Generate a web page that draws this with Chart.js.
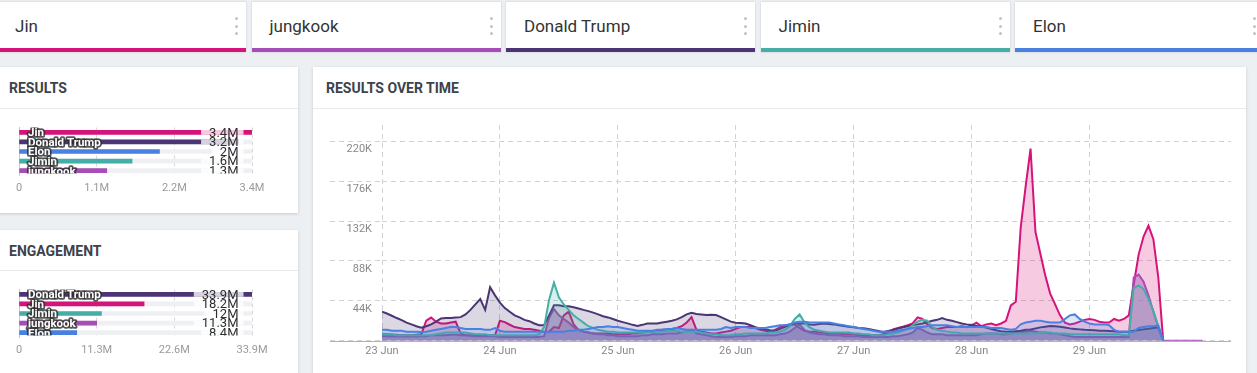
<!DOCTYPE html>
<html>
<head>
<meta charset="utf-8">
<script src="https://cdn.jsdelivr.net/npm/chart.js@4.4.0/dist/chart.umd.min.js"></script>
<style>
  body { margin: 0; width: 1257px; height: 373px; overflow: hidden; background: #edf0f3; font-family: Roboto, sans-serif; position: relative; }
  .tab { position: absolute; top: 2px; height: 46px; width: 249px; background: #fff; border-bottom: 4px solid; box-shadow: 0 0 2px rgba(0,0,0,0.18); }
  .tab span { position: absolute; left: 18px; top: 14px; font-size: 17px; line-height: 20px; color: #333; }
  .tab .dots { position: absolute; right: 8px; top: 15px; width: 3px; }
  .tab .dots i { display: block; width: 3px; height: 3px; border-radius: 50%; background: #c2c2c2; margin-bottom: 4.5px; }
  .card { position: absolute; background: #fff; box-shadow: 0 1px 3px rgba(0,0,0,0.16); }
  .card h3 { position: absolute; left: 13px; top: 13px; margin: 0; font-size: 14px; line-height: 16px; font-weight: 700; color: #3c434a; }
  .card .sep { position: absolute; left: 0; right: 0; height: 1px; background: #e8eaed; }
  canvas { position: absolute; }
</style>
</head>
<body>
<div id="tabs"></div>

<div class="card" style="left:-4px; top:67px; width:302px; height:146px;">
  <h3>RESULTS</h3><div class="sep" style="top:41px"></div>
</div>
<div class="card" style="left:-4px; top:230px; width:302px; height:160px;">
  <h3>ENGAGEMENT</h3><div class="sep" style="top:40px"></div>
</div>
<div class="card" style="left:313px; top:67px; width:933px; height:320px;">
  <h3 style="left:13px">RESULTS OVER TIME</h3><div class="sep" style="top:41px"></div>
</div>

<canvas id="results" width="298" height="93" style="left:0; top:110px;"></canvas>
<canvas id="engagement" width="298" height="93" style="left:0; top:272px;"></canvas>
<canvas id="timeline" width="932" height="263" style="left:313px; top:110px;"></canvas>

<script>
// names and colours of the tracked topics
const names = ["Jin", "jungkook", "Donald Trump", "Jimin", "Elon"];
const colors = {
    "Jin": "#d6137b",
    "jungkook": "#a64db7",
    "Donald Trump": "#4b3574",
    "Jimin": "#45aea6",
    "Elon": "#4a80e2"
};
const fillAlpha = { "Jin": 0.22, "jungkook": 0.42, "Donald Trump": 0.2, "Jimin": 0.2, "Elon": 0.2 };

// RESULTS (millions)
const resultsNames = ["Jin", "Donald Trump", "Elon", "Jimin", "jungkook"];
const resultsValues = [3.4, 3.2, 2.05, 1.65, 1.28];
const resultsValueLabels = ["3.4M", "3.2M", "2M", "1.6M", "1.3M"];
const resultsMax = 3.4;
const resultsTicks = ["0", "1.1M", "2.2M", "3.4M"];

// ENGAGEMENT (millions)
const engagementNames = ["Donald Trump", "Jin", "Jimin", "jungkook", "Elon"];
const engagementValues = [33.9, 18.2, 12.0, 11.3, 8.4];
const engagementValueLabels = ["33.9M", "18.2M", "12M", "11.3M", "8.4M"];
const engagementMax = 33.9;
const engagementTicks = ["0", "11.3M", "22.6M", "33.9M"];

// RESULTS OVER TIME, hourly from 23 Jun 00:00 (thousands)
const dayLabels = ["23 Jun", "24 Jun", "25 Jun", "26 Jun", "27 Jun", "28 Jun", "29 Jun"];
const yTickValues = [0, 44, 88, 132, 176, 220];
const yTickLabels = ["", "44K", "88K", "132K", "176K", "220K"];

const jin = [
    7, 7, 6.5, 6.5, 6, 6, 6, 6.5,
    7, 22, 25.5, 21, 19, 19, 20, 21,
    8, 6, 6, 6, 5.5, 5.5, 6, 6,
    22, 20.5, 17.6, 15, 14, 13, 12.9, 12,
    11, 10, 10, 15, 14, 28, 32, 18,
    12, 10, 9, 8, 8, 8, 8, 7,
    7, 7, 7, 8, 8, 9, 10, 10,
    11, 12, 12, 13, 14, 16, 20, 26,
    12, 10, 9, 8, 8, 9, 10, 11,
    13, 15, 15, 15, 14, 12, 11, 10,
    12, 15, 17, 18, 18, 14, 11, 10,
    10, 9, 9, 8, 8, 8, 7, 7,
    7, 6, 6, 6, 6, 6, 7, 9,
    12.5, 14, 15.4, 17, 19, 25.7, 24, 18,
    14, 13, 14, 15, 15, 15, 16, 15,
    17, 20, 16, 18, 19, 17, 19, 22,
    39, 43, 125, 170, 212, 120, 96, 72,
    52, 40, 28, 20, 18, 19, 21, 23,
    24, 23, 21, 20, 20, 24, 22, 24,
    28, 62, 95, 115, 127, 112, 70, 0
];

const jungkook = [
    5, 5, 4.5, 4.5, 4.5, 4.5, 4.5, 4.5,
    5, 5, 6, 6, 6, 6, 6.5, 6.5,
    6, 6, 5.5, 5, 5, 5, 5, 5,
    4, 4, 4, 4, 4, 4, 4, 4,
    4, 5, 25, 35, 28, 24, 20, 15,
    12, 10, 9, 8, 7, 7, 6, 6,
    5, 5, 5, 5, 5, 6, 6, 7,
    7, 7, 8, 8, 8, 9, 11, 12,
    8, 7, 6, 5, 4, 4, 4, 4,
    5, 5, 5, 6, 6, 6, 6, 6,
    6, 7, 8, 10, 14, 18, 12, 9,
    8, 7, 7, 6, 6, 6, 5, 5,
    5, 5, 4, 4, 4, 4, 4, 4,
    5, 5, 6, 7, 9, 14, 12, 9,
    7, 7, 7, 6, 6, 6, 6, 6,
    6, 6, 7, 8, 8, 8, 7, 7,
    8, 9, 10, 10, 11, 10, 9, 9,
    8, 8, 7, 6, 5, 4, 4, 4,
    4, 4, 4, 4, 4, 4, 4, 4,
    4, 70, 73, 65, 50, 32, 15, 0,
    0, 0, 0, 0, 0, 0, 0, 0
];

const donaldTrump = [
    32, 30, 27.5, 25, 22.8, 20, 18, 16,
    14.3, 16, 18, 21, 24.6, 25, 25, 25.5,
    26, 29, 34, 40, 46, 34, 59, 50,
    42, 36, 32, 28, 25.7, 23, 21.5, 19,
    17, 17, 28, 39, 39, 38, 38, 37,
    35.6, 34, 32.6, 31, 29, 27, 25.7, 24,
    22, 20.5, 19.1, 17.5, 16.2, 17.5, 19, 19,
    19, 20, 21, 22, 23.5, 26, 29, 30.8,
    29.4, 29, 28.3, 28.5, 28.3, 26, 23.5, 21,
    19.8, 19.5, 19, 17, 14.8, 13.5, 12.5, 11.5,
    11, 13, 15.4, 17, 19, 19, 19, 18,
    17.6, 18.5, 19, 18.5, 18, 17, 16.2, 15.5,
    14.8, 14, 13.7, 12.8, 11.9, 10.8, 9.7, 10.8,
    11.9, 13.3, 14.8, 16, 17.3, 18, 19, 20.5,
    22, 23, 25, 23, 22, 20.5, 19, 18,
    17.3, 16.3, 15.4, 14.5, 13, 11.5, 10.5, 10,
    10, 10.5, 11, 12, 12.5, 13.5, 14.7, 15.5,
    16.1, 16, 15.4, 14.5, 13.6, 13, 12.5, 12,
    11.8, 11.5, 11, 11, 10.8, 10.5, 10, 10,
    10, 11, 11.8, 12.5, 13.2, 14, 14.7, 0
];

const jimin = [
    7, 7, 7, 6, 6, 6, 6, 6,
    6, 6, 6, 7, 8, 9, 9, 9,
    9, 9, 8, 7, 7, 7, 6, 6,
    6, 6, 6, 6, 6, 6, 6, 6,
    7, 15, 45, 64, 48, 40, 34, 28,
    24, 20, 16, 14, 12, 11, 10, 10,
    9, 9, 9, 9, 9, 9, 9, 10,
    10, 10, 11, 11, 11, 10, 10, 10,
    10, 9, 8, 7, 7, 6, 6, 6,
    7, 7, 8, 8, 8, 8, 8, 9,
    9, 10, 12, 16, 24, 29, 20, 15,
    12, 11, 10, 9, 9, 9, 9, 9,
    8, 8, 7, 7, 6, 6, 6, 7,
    8, 9, 11, 13, 17, 21, 23, 22,
    15, 12, 11, 10, 9, 9, 8, 8,
    8, 8, 8, 8, 8, 8, 8, 8,
    8, 8, 8, 8, 8, 8, 9, 9,
    9, 8, 8, 8, 7, 7, 7, 7,
    7, 7, 7, 7, 7, 7, 7, 6,
    6, 58, 61, 57, 46, 33, 16, 0
];

const elon = [
    12, 12, 11, 11, 11, 10, 10, 10,
    9.5, 10, 11, 12, 13, 14, 15, 15,
    14, 13, 13, 13, 13, 12, 12, 14,
    11, 10, 10, 10, 10, 10, 10, 10,
    10, 10, 10, 10, 10, 10, 11, 11,
    12, 12, 13, 14, 15, 15, 16, 15,
    15, 14, 13, 12, 11, 11, 11, 11,
    12, 12, 13, 13, 14, 13, 12, 12,
    12, 12, 12, 12, 12, 13, 15, 14,
    15, 15, 15, 14, 14, 14, 14, 15,
    16, 17, 17, 18, 20, 21, 21, 20,
    20, 20, 20, 20, 19, 18, 17, 16,
    15, 14, 13, 12, 11, 10, 10, 10,
    10, 11, 12, 13, 14, 15, 15, 16,
    17, 17, 17, 17, 16, 15, 15, 15,
    15, 15, 15, 15, 14, 14, 14, 13,
    12, 13, 18, 20, 21, 22, 22, 21,
    20, 20, 20, 24, 28, 29, 24, 21,
    19, 18, 18, 18, 17, 12, 10, 10,
    10, 10, 14, 15, 16, 16, 17, 0
];

// top tabs
const tabs = document.getElementById("tabs");
names.forEach((name, i) => {
    const tab = document.createElement("div");
    tab.className = "tab";
    tab.style.left = (-3 + i * 254.5) + "px";
    tab.style.borderBottomColor = colors[name];
    tab.innerHTML = "<span>" + name + "</span><div class='dots'><i></i><i></i><i></i></div>";
    tabs.appendChild(tab);
});

function withAlpha(hex, a) {
    const n = parseInt(hex.slice(1), 16);
    return "rgba(" + (n >> 16) + "," + ((n >> 8) & 255) + "," + (n & 255) + "," + a + ")";
}

// names on the bars + value labels at the right
const barLabels = {
    id: "barLabels",
    afterDatasetsDraw(chart, args, opts) {
        const { ctx, chartArea } = chart;
        const meta = chart.getDatasetMeta(0);
        ctx.save();
        ctx.beginPath();
        ctx.rect(0, chartArea.top, chart.width, chartArea.bottom - chartArea.top - 2);
        ctx.clip();
        ctx.textBaseline = "middle";
        meta.data.forEach((bar, i) => {
            ctx.font = "13px Roboto";
            const txt = opts.values[i];
            const w = ctx.measureText(txt).width;
            const xr = chartArea.right - 13.5;
            ctx.fillStyle = "rgba(255,255,255,0.78)";
            ctx.fillRect(xr - w - 8, bar.y - 2.5, w + 13, 5);
            ctx.fillStyle = "#2e2e2e";
            ctx.textAlign = "right";
            ctx.fillText(txt, xr, bar.y + 1);

            ctx.font = "bold 11.5px Roboto";
            ctx.textAlign = "left";
            ctx.lineJoin = "round";
            ctx.lineWidth = 3.5;
            ctx.strokeStyle = "rgba(45,45,45,0.8)";
            ctx.strokeText(chart.data.labels[i], chartArea.left + 9, bar.y + 1);
            ctx.fillStyle = "#fff";
            ctx.fillText(chart.data.labels[i], chartArea.left + 9, bar.y + 1);
        });
        ctx.restore();
    }
};

function barChart(id, cats, values, max, ticks, valueLabels) {
    return new Chart(document.getElementById(id), {
        type: "bar",
        data: {
            labels: cats,
            datasets: [
                {
                    data: values,
                    backgroundColor: cats.map(c => colors[c]),
                    barThickness: 4,
                    grouped: false,
                    order: 0
                },
                {
                    data: cats.map(() => max),
                    backgroundColor: "#eef0f3",
                    barThickness: 4,
                    grouped: false,
                    order: 1
                }
            ]
        },
        options: {
            indexAxis: "y",
            responsive: false,
            animation: false,
            devicePixelRatio: 1,
            layout: { padding: { left: 19, right: 46, top: 17.5, bottom: 5.5 } },
            plugins: {
                legend: { display: false },
                tooltip: { enabled: false },
                barLabels: { values: valueLabels }
            },
            scales: {
                x: {
                    min: 0,
                    max: max,
                    afterBuildTicks: s => { s.ticks = ticks.map((_, i) => ({ value: max * i / (ticks.length - 1) })); },
                    afterFit: s => { s.height = 22; },
                    ticks: {
                        callback: (v, i) => ticks[i],
                        color: "#9a9a9a",
                        font: { size: 11, family: "Roboto" },
                        padding: 6,
                        maxRotation: 0,
                        autoSkip: false
                    },
                    grid: {
                        color: c => c.index === 0 ? "rgba(0,0,0,0)" : "#d8d8d8",
                        drawTicks: false
                    },
                    border: { display: false, dash: [4, 3] }
                },
                y: {
                    afterFit: s => { s.width = 0; },
                    ticks: { display: false },
                    grid: { display: false, drawTicks: false },
                    border: { color: "#c8c8c8" }
                }
            }
        },
        plugins: [barLabels]
    });
}

barChart("results", resultsNames, resultsValues, resultsMax, resultsTicks, resultsValueLabels);
barChart("engagement", engagementNames, engagementValues, engagementMax, engagementTicks, engagementValueLabels);

// solid base line under the time chart
const baseline = {
    id: "baseline",
    beforeDatasetsDraw(chart) {
        const { ctx, chartArea, scales } = chart;
        const y = Math.round(scales.y.getPixelForValue(0)) + 0.5;
        ctx.save();
        ctx.strokeStyle = "#b3b3b3";
        ctx.lineWidth = 1;
        ctx.beginPath();
        ctx.moveTo(chartArea.left - 52, y);
        ctx.lineTo(chartArea.right, y);
        ctx.stroke();
        ctx.restore();
    }
};

// drawn last = on top, so list the top series first
const series = [
    ["Elon", elon],
    ["Jimin", jimin],
    ["Donald Trump", donaldTrump],
    ["jungkook", jungkook],
    ["Jin", jin]
];

new Chart(document.getElementById("timeline"), {
    type: "line",
    data: {
        labels: jungkook.map((_, i) => i),
        datasets: series.map(([name, values]) => ({
            label: name,
            data: values,
            borderColor: colors[name],
            backgroundColor: withAlpha(colors[name], fillAlpha[name]),
            borderWidth: 2,
            fill: "origin",
            tension: 0,
            pointRadius: 0
        }))
    },
    options: {
        responsive: false,
        animation: false,
        devicePixelRatio: 1,
        layout: { padding: { left: 0, right: 14, top: 15, bottom: 12.3 } },
        plugins: {
            legend: { display: false },
            tooltip: { enabled: false }
        },
        scales: {
            x: {
                type: "linear",
                min: 0,
                max: 172.8,
                afterBuildTicks: s => { s.ticks = dayLabels.map((_, i) => ({ value: i * 24 })); },
                afterFit: s => { s.height = 20; },
                ticks: {
                    callback: (v, i) => dayLabels[i],
                    color: "#888",
                    font: { size: 11, family: "Roboto" },
                    padding: 4,
                    maxRotation: 0,
                    autoSkip: false
                },
                grid: { color: "#d2d2d2", drawTicks: false },
                border: { display: false, dash: [5, 4] }
            },
            y: {
                min: 0,
                max: 238,
                afterBuildTicks: s => { s.ticks = yTickValues.map(v => ({ value: v })); },
                afterFit: s => { s.width = 69; },
                ticks: {
                    callback: (v, i) => yTickLabels[i],
                    color: "#888",
                    font: { size: 11, family: "Roboto" },
                    padding: -42,
                    labelOffset: 8
                },
                grid: {
                    color: "#d2d2d2",
                    tickLength: 52,
                    tickColor: "#d2d2d2",
                    tickBorderDash: [5, 4]
                },
                border: { display: false, dash: [5, 4] }
            }
        }
    },
    plugins: [baseline]
});
</script>
</body>
</html>
